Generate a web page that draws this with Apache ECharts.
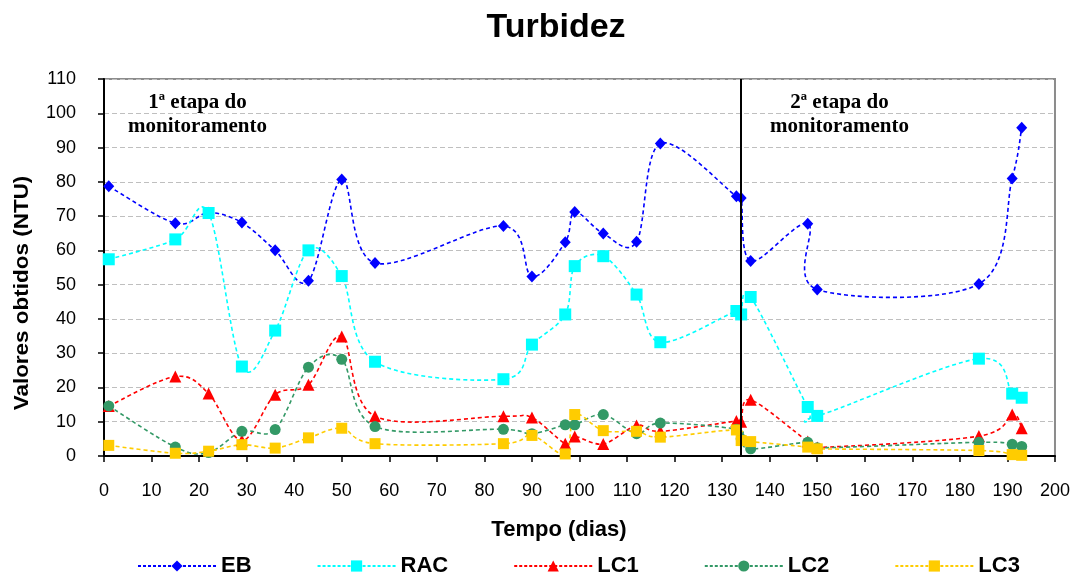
<!DOCTYPE html>
<html>
<head>
<meta charset="utf-8">
<title>Turbidez</title>
<script src="https://cdn.jsdelivr.net/npm/echarts@6/dist/echarts.min.js"></script>
<style>
  html, body { margin: 0; padding: 0; background: #ffffff; }
  #chart { width: 1073px; height: 574px; }
</style>
</head>
<body>
<div id="chart"></div>
<script>
// Sampling days (dias)
const days = [1, 15, 22, 29, 36, 43, 50, 57, 84, 90, 97, 99, 105, 112, 117, 133, 134, 136, 148, 150, 184, 191, 193];

// Turbidity (NTU) per sampling point
const EB  = [78.7, 67.9, 71.0, 68.1, 60.0, 51.1, 80.7, 56.3, 67.1, 52.4, 62.4, 71.2, 64.9, 62.5, 91.2, 75.8, 75.3, 56.9, 67.8, 48.6, 50.2, 81.0, 95.8];
const RAC = [57.4, 63.2, 70.9, 26.1, 36.6, 60.0, 52.5, 27.5, 22.4, 32.5, 41.3, 55.4, 58.3, 47.1, 33.2, 42.3, 41.3, 46.4, 14.3, 11.7, 28.4, 18.2, 17.0];
const LC1 = [14.6, 23.2, 18.2, 4.5, 17.9, 20.8, 34.9, 11.6, 11.6, 11.2, 3.6, 5.7, 3.5, 8.9, 7.2, 10.2, 10.0, 16.4, 4.2, 2.5, 5.8, 12.1, 8.1];
const LC2 = [14.6, 2.6, 1.0, 7.2, 7.7, 25.9, 28.2, 8.6, 7.8, 6.5, 9.1, 9.1, 12.1, 6.5, 9.6, 7.8, 5.0, 2.1, 4.0, 2.4, 4.0, 3.4, 2.8];
const LC3 = [3.1, 0.8, 1.4, 3.3, 2.3, 5.3, 8.1, 3.6, 3.6, 6.0, 0.6, 12.1, 7.4, 7.2, 5.5, 7.6, 4.5, 4.2, 2.6, 2.1, 1.6, 0.4, 0.2];

// Day that separates the two monitoring stages
const stageBoundaryDay = 134;

const seriesNames = ['EB', 'RAC', 'LC1', 'LC2', 'LC3'];
const seriesValues = [EB, RAC, LC1, LC2, LC3];
const seriesColors = ['#0000ff', '#00ffff', '#ff0000', '#339966', '#ffcc00'];
const seriesSymbols = ['diamond', 'rect', 'triangle', 'circle', 'rect'];
const seriesSymbolSizes = [[11, 12], 12, 12, 11, 11];

const LINE_WIDTH = 1.6;
const LINE_DASH = [4, 3];

const SANS = 'Liberation Sans, Arial, sans-serif';
const SERIF = 'Liberation Serif, Times New Roman, serif';

const chart = echarts.init(document.getElementById('chart'), null, { renderer: 'canvas' });

// Smoothed connector through every point of a series (Catmull-Rom style
// Bezier in screen space, so the curve may overshoot between samples).
function smoothCurveRenderer(values, color) {
  return function (params, api) {
    if (params.dataIndex !== 0) return null;
    const pts = days.map((d, k) => api.coord([d, values[k]]));
    let path = 'M' + pts[0][0].toFixed(2) + ' ' + pts[0][1].toFixed(2);
    for (let k = 0; k < pts.length - 1; k++) {
      const p0 = pts[k - 1] || pts[k];
      const p1 = pts[k];
      const p2 = pts[k + 1];
      const p3 = pts[k + 2] || pts[k + 1];
      const c1x = p1[0] + (p2[0] - p0[0]) / 6;
      const c1y = p1[1] + (p2[1] - p0[1]) / 6;
      const c2x = p2[0] - (p3[0] - p1[0]) / 6;
      const c2y = p2[1] - (p3[1] - p1[1]) / 6;
      path += ' C' + c1x.toFixed(2) + ' ' + c1y.toFixed(2) + ' ' +
              c2x.toFixed(2) + ' ' + c2y.toFixed(2) + ' ' +
              p2[0].toFixed(2) + ' ' + p2[1].toFixed(2);
    }
    return {
      type: 'path',
      shape: { pathData: path },
      style: { fill: null, stroke: color, lineWidth: LINE_WIDTH, lineDash: LINE_DASH }
    };
  };
}

const series = [];
seriesNames.forEach((name, i) => {
  const pairs = days.map((d, k) => [d, seriesValues[i][k]]);
  series.push({
    name: name + ' curve',
    type: 'custom',
    data: pairs,
    clip: true,
    silent: true,
    renderItem: smoothCurveRenderer(seriesValues[i], seriesColors[i]),
    animation: false
  });
  const markers = {
    name: name,
    type: 'line',
    data: pairs,
    symbol: seriesSymbols[i],
    symbolSize: seriesSymbolSizes[i],
    showAllSymbol: true,
    color: seriesColors[i],
    itemStyle: { color: seriesColors[i] },
    lineStyle: { color: seriesColors[i], width: LINE_WIDTH, type: LINE_DASH, opacity: 0 },
    emphasis: { disabled: true },
    silent: true,
    animation: false
  };
  if (i === 0) {
    // solid vertical rule between the two monitoring stages
    markers.markLine = {
      silent: true,
      symbol: 'none',
      label: { show: false },
      lineStyle: { color: '#000000', width: 2, type: 'solid', opacity: 1 },
      data: [{ xAxis: stageBoundaryDay }],
      animation: false
    };
  }
  series.push(markers);
});

const option = {
  backgroundColor: '#ffffff',
  animation: false,
  grid: {
    left: 104, top: 79, right: 16, bottom: 118,
    show: true,
    borderColor: '#8c8c8c',
    borderWidth: 2,
    backgroundColor: '#ffffff'
  },
  xAxis: {
    type: 'value',
    min: 0, max: 200, interval: 10,
    axisLine: { show: true, onZero: false, lineStyle: { color: '#000000', width: 2 } },
    axisTick: { show: true, inside: false, length: 6, lineStyle: { color: '#000000', width: 1.5 } },
    axisLabel: { color: '#000000', fontSize: 18, fontFamily: SANS, margin: 26 },
    splitLine: { show: false }
  },
  yAxis: {
    type: 'value',
    min: 0, max: 110, interval: 10,
    axisLine: { show: true, onZero: false, lineStyle: { color: '#000000', width: 2 } },
    axisTick: { show: true, inside: false, length: 6, lineStyle: { color: '#000000', width: 1.5 } },
    axisLabel: { color: '#000000', fontSize: 18, fontFamily: SANS, margin: 28 },
    splitLine: { show: true, lineStyle: { color: '#bfbfbf', width: 1, type: [5, 3] } }
  },
  legend: {
    data: seriesNames.map((name, i) => ({
      name: name,
      lineStyle: { color: seriesColors[i], width: 2, type: [3, 2], opacity: 1 }
    })),
    left: 137,
    top: 555,
    padding: 0,
    itemWidth: 78,
    itemHeight: 14,
    itemGap: 65,
    textStyle: { color: '#000000', fontSize: 22, fontWeight: 'bold', fontFamily: SANS },
    selectedMode: false
  },
  graphic: [
    {
      type: 'text', x: 556, y: 28,
      style: { text: 'Turbidez', fill: '#000000', font: 'bold 34px ' + SANS, align: 'center', verticalAlign: 'middle' }
    },
    {
      type: 'text', x: 559, y: 530,
      style: { text: 'Tempo (dias)', fill: '#000000', font: 'bold 22px ' + SANS, align: 'center', verticalAlign: 'middle' }
    },
    {
      type: 'text', x: 22, y: 293, rotation: Math.PI / 2, scaleX: 1.07,
      style: { text: 'Valores obtidos (NTU)', fill: '#000000', font: 'bold 21px ' + SANS, align: 'center', verticalAlign: 'middle' }
    },
    {
      type: 'text', x: 197.5, y: 115,
      style: { text: '1ª etapa do\nmonitoramento', fill: '#000000', font: 'bold 21px ' + SERIF, align: 'center', verticalAlign: 'middle', lineHeight: 24 }
    },
    {
      type: 'text', x: 839.5, y: 115,
      style: { text: '2ª etapa do\nmonitoramento', fill: '#000000', font: 'bold 21px ' + SERIF, align: 'center', verticalAlign: 'middle', lineHeight: 24 }
    }
  ],
  series: series
};

chart.setOption(option);
</script>
</body>
</html>
